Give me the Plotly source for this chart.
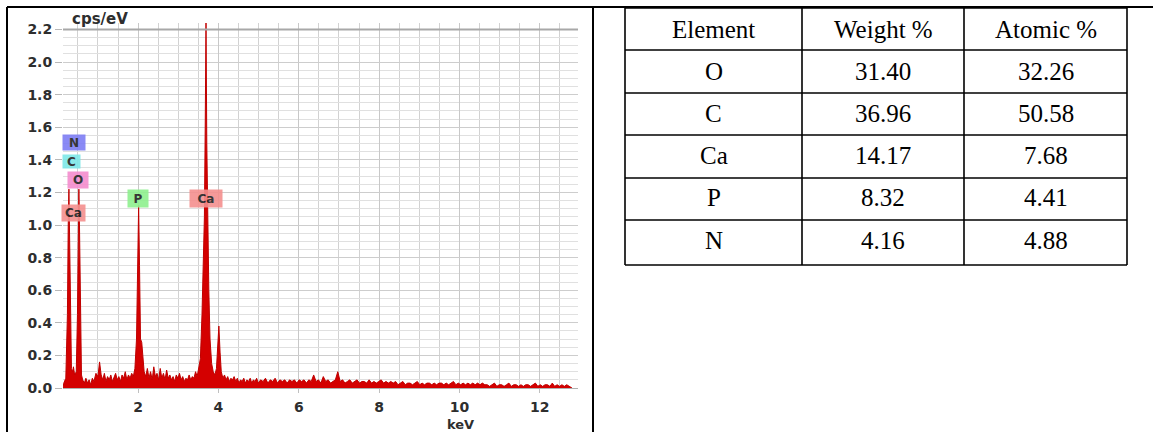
import plotly.graph_objects as go

# ---------------- data ----------------
energy_kev = [
    0.13, 0.15, 0.20, 0.24, 0.26, 0.277, 0.29, 0.31, 0.34, 0.37,
    0.39, 0.42, 0.46, 0.49, 0.51, 0.525, 0.54, 0.56, 0.59, 0.62,
    0.66, 0.70, 0.74, 0.78, 0.82, 0.86, 0.90, 0.95, 1.00, 1.04,
    1.08, 1.12, 1.16, 1.20, 1.24, 1.28, 1.32, 1.36, 1.40, 1.44,
    1.48, 1.52, 1.56, 1.60, 1.64, 1.68, 1.72, 1.76, 1.80, 1.84,
    1.88, 1.92, 1.96, 1.99, 2.013, 2.035, 2.06, 2.09, 2.12, 2.15,
    2.19, 2.23, 2.27, 2.31, 2.35, 2.39, 2.43, 2.47, 2.51, 2.55,
    2.59, 2.63, 2.67, 2.71, 2.75, 2.79, 2.83, 2.87, 2.91, 2.95,
    2.99, 3.03, 3.07, 3.11, 3.15, 3.19, 3.23, 3.27, 3.31, 3.35,
    3.39, 3.43, 3.47, 3.51, 3.55, 3.59, 3.62, 3.65, 3.67, 3.69,
    3.71, 3.73, 3.76, 3.79, 3.83, 3.87, 3.91, 3.95, 3.98, 4.01,
    4.04, 4.07, 4.11, 4.15, 4.19, 4.23, 4.27, 4.31, 4.35, 4.39,
    4.43, 4.47, 4.51, 4.55, 4.59, 4.63, 4.67, 4.71, 4.75, 4.79,
    4.83, 4.87, 4.91, 4.95, 4.99, 5.05, 5.11, 5.17, 5.23, 5.29,
    5.35, 5.41, 5.47, 5.53, 5.59, 5.65, 5.71, 5.77, 5.83, 5.89,
    5.95, 6.01, 6.07, 6.13, 6.19, 6.25, 6.31, 6.37, 6.43, 6.49,
    6.55, 6.61, 6.67, 6.73, 6.79, 6.85, 6.91, 6.97, 7.03, 7.09,
    7.15, 7.21, 7.27, 7.33, 7.39, 7.45, 7.51, 7.57, 7.63, 7.69,
    7.75, 7.81, 7.87, 7.93, 7.99, 8.05, 8.11, 8.17, 8.23, 8.29,
    8.35, 8.41, 8.47, 8.53, 8.59, 8.65, 8.71, 8.77, 8.83, 8.89,
    8.95, 9.01, 9.07, 9.13, 9.19, 9.25, 9.31, 9.37, 9.43, 9.49,
    9.55, 9.61, 9.67, 9.73, 9.79, 9.85, 9.91, 9.97, 10.03, 10.09,
    10.15, 10.21, 10.27, 10.33, 10.39, 10.45, 10.51, 10.57, 10.63, 10.69,
    10.75, 10.81, 10.87, 10.93, 10.99, 11.05, 11.11, 11.17, 11.23, 11.29,
    11.35, 11.41, 11.47, 11.53, 11.59, 11.65, 11.71, 11.77, 11.83, 11.89,
    11.95, 12.01, 12.07, 12.13, 12.19, 12.25, 12.31, 12.37, 12.43, 12.49,
    12.55, 12.61, 12.67, 12.73, 12.80,
]
counts_cps = [
    0.00, 0.03, 0.06, 0.45, 1.00, 1.22, 1.00, 0.45, 0.12, 0.10,
    0.13, 0.08, 0.10, 0.45, 1.00, 1.22, 1.00, 0.45, 0.08, 0.05,
    0.03, 0.06, 0.03, 0.05, 0.02, 0.06, 0.04, 0.09, 0.07, 0.16,
    0.08, 0.05, 0.09, 0.04, 0.07, 0.05, 0.08, 0.04, 0.06, 0.09,
    0.05, 0.07, 0.04, 0.08, 0.06, 0.10, 0.05, 0.08, 0.06, 0.09,
    0.07, 0.12, 0.30, 0.85, 1.12, 0.75, 0.30, 0.28, 0.18, 0.10,
    0.07, 0.12, 0.06, 0.10, 0.05, 0.13, 0.07, 0.09, 0.05, 0.12,
    0.06, 0.09, 0.05, 0.11, 0.06, 0.08, 0.05, 0.07, 0.04, 0.08,
    0.06, 0.09, 0.05, 0.07, 0.04, 0.06, 0.05, 0.08, 0.05, 0.07,
    0.06, 0.10, 0.07, 0.12, 0.18, 0.45, 0.75, 1.05, 1.60, 2.24,
    1.50, 1.00, 0.60, 0.30, 0.15, 0.10, 0.08, 0.12, 0.25, 0.38,
    0.22, 0.10, 0.06, 0.08, 0.05, 0.07, 0.04, 0.06, 0.05, 0.07,
    0.04, 0.06, 0.03, 0.05, 0.04, 0.06, 0.03, 0.05, 0.04, 0.06,
    0.03, 0.05, 0.04, 0.06, 0.03, 0.05, 0.04, 0.06, 0.03, 0.05,
    0.04, 0.06, 0.03, 0.05, 0.04, 0.05, 0.03, 0.05, 0.04, 0.05,
    0.03, 0.05, 0.04, 0.05, 0.03, 0.05, 0.04, 0.08, 0.04, 0.05,
    0.03, 0.07, 0.04, 0.05, 0.03, 0.04, 0.05, 0.10, 0.04, 0.05,
    0.03, 0.04, 0.05, 0.03, 0.04, 0.05, 0.03, 0.04, 0.04, 0.03,
    0.05, 0.03, 0.04, 0.03, 0.04, 0.05, 0.03, 0.04, 0.03, 0.04,
    0.03, 0.04, 0.02, 0.03, 0.04, 0.02, 0.03, 0.03, 0.02, 0.03,
    0.04, 0.02, 0.03, 0.02, 0.03, 0.03, 0.02, 0.03, 0.02, 0.03,
    0.03, 0.02, 0.03, 0.02, 0.03, 0.04, 0.02, 0.03, 0.02, 0.03,
    0.02, 0.03, 0.02, 0.03, 0.02, 0.03, 0.02, 0.03, 0.02, 0.02,
    0.01, 0.02, 0.03, 0.01, 0.02, 0.02, 0.01, 0.02, 0.03, 0.01,
    0.02, 0.02, 0.01, 0.02, 0.01, 0.02, 0.02, 0.01, 0.02, 0.03,
    0.01, 0.02, 0.01, 0.02, 0.02, 0.01, 0.03, 0.01, 0.02, 0.01,
    0.02, 0.01, 0.02, 0.01, 0.00,
]
assert len(energy_kev) == len(counts_cps)

y_tick_vals = [0.0, 0.2, 0.4, 0.6, 0.8, 1.0, 1.2, 1.4, 1.6, 1.8, 2.0, 2.2]
x_tick_vals = [2, 4, 6, 8, 10, 12]

# element markers on the spectrum
peak_labels = ["N", "C", "O", "Ca", "P", "Ca"]
peak_colors = ["#7e7ef4", "#7ee8e8", "#f48cce", "#f4908e", "#8ef08e", "#f4908e"]

# composition table
table_header = ["Element", "Weight %", "Atomic %"]
table_element = ["O", "C", "Ca", "P", "N"]
table_weight = ["31.40", "36.96", "14.17", "8.32", "4.16"]
table_atomic = ["32.26", "50.58", "7.68", "4.41", "4.88"]

# ---------------- layout helpers ----------------
W, H = 1153, 432


def px(x):
    return x / W


def py(y):
    return 1 - y / H


fig = go.Figure()
fig.add_trace(go.Scatter(
    x=energy_kev, y=counts_cps, mode="lines", fill="tozeroy",
    line=dict(color="#c00000", width=1), fillcolor="#d40000",
    showlegend=False, hoverinfo="skip",
))

tick_font = dict(family="DejaVu Sans", size=14, color="#2e2e2e", weight="bold")

fig.update_layout(
    width=W, height=H, margin=dict(l=0, r=0, t=0, b=0, autoexpand=False),
    paper_bgcolor="white", plot_bgcolor="white", showlegend=False,
    xaxis=dict(
        domain=[px(63), px(578)], range=[0.13, 12.95], automargin=False,
        tickvals=x_tick_vals, ticktext=[str(v) for v in x_tick_vals],
        showgrid=True, gridcolor="#c8c8c8", gridwidth=1,
        minor=dict(dtick=0.5, tick0=0, showgrid=True, gridcolor="#d2d2d2", gridwidth=1),
        ticks="outside", ticklen=4, tickcolor="#c0c0c0",
        showline=True, linecolor="#b0b0b0", linewidth=1,
        zeroline=False, tickfont=tick_font, ticklabelstandoff=2,
    ),
    yaxis=dict(
        domain=[py(388), py(22.9)], range=[0, 2.24], automargin=False,
        tickvals=y_tick_vals, tickformat=".1f",
        showgrid=True, gridcolor="#cdcdcd", gridwidth=1,
        minor=dict(dtick=0.05, tick0=0, showgrid=True, gridcolor="#e0e0e0", gridwidth=1),
        ticks="outside", ticklen=7, tickcolor="#b8b8b8",
        showline=False, zeroline=False, tickfont=tick_font,
    ),
)

shapes = []
# top border of the spectrum plot at 2.2
shapes.append(dict(type="line", xref="x", yref="y", x0=0.13, x1=12.95, y0=2.2, y1=2.2,
                   line=dict(color="#a8a8a8", width=2)))
# outer frame
shapes.append(dict(type="line", xref="paper", yref="paper", x0=px(7), x1=px(1153), y0=py(7), y1=py(7),
                   line=dict(color="black", width=2)))
shapes.append(dict(type="line", xref="paper", yref="paper", x0=px(7), x1=px(7), y0=py(7), y1=py(432),
                   line=dict(color="black", width=2)))
shapes.append(dict(type="line", xref="paper", yref="paper", x0=px(593), x1=px(593), y0=py(7), y1=py(432),
                   line=dict(color="black", width=2)))

# table grid
col_x = [625, 802, 964, 1127]
row_y = [8, 50, 93, 135, 178, 220, 265]
for cx in col_x:
    shapes.append(dict(type="line", xref="paper", yref="paper", x0=px(cx), x1=px(cx),
                       y0=py(row_y[0]), y1=py(row_y[-1]), line=dict(color="black", width=1.6)))
for ry in row_y:
    shapes.append(dict(type="line", xref="paper", yref="paper", x0=px(col_x[0]), x1=px(col_x[-1]),
                       y0=py(ry), y1=py(ry), line=dict(color="black", width=1.6)))

annotations = []
# axis titles
annotations.append(dict(text="cps/eV", xref="paper", yref="paper", x=px(100), y=py(19),
                        showarrow=False, xanchor="center", yanchor="middle",
                        font=dict(family="DejaVu Sans", size=15, color="#2e2e2e", weight="bold")))
annotations.append(dict(text="keV", xref="paper", yref="paper", x=px(460), y=py(424),
                        showarrow=False, xanchor="center", yanchor="middle",
                        font=dict(family="DejaVu Sans", size=13, color="#2e2e2e", weight="bold")))

# element label boxes (pixel centres and sizes)
label_boxes = [(74, 142.5, 22, 15), (71.5, 161.5, 17, 13), (78, 180, 20, 16),
               (73.5, 213, 23, 16), (138, 198.5, 20, 17), (206, 198.5, 32, 17)]
for lab, col, (cx, cy, bw, bh) in zip(peak_labels, peak_colors, label_boxes):
    annotations.append(dict(text=lab, xref="paper", yref="paper", x=px(cx), y=py(cy),
                            showarrow=False, xanchor="center", yanchor="middle",
                            width=bw, height=bh, bgcolor=col, opacity=0.9, borderpad=0,
                            font=dict(family="DejaVu Sans", size=12, color="#222222", weight="bold")))

# table text
col_cx = [(col_x[i] + col_x[i + 1]) / 2 for i in range(3)]
text_y = [29, 71, 113, 155, 198, 240]
tfont = dict(family="Liberation Serif", size=25, color="black")
for i, h in enumerate(table_header):
    annotations.append(dict(text=h, xref="paper", yref="paper", x=px(col_cx[i]), y=py(text_y[0]),
                            showarrow=False, xanchor="center", yanchor="middle", font=tfont))
for r in range(len(table_element)):
    for i, val in enumerate([table_element[r], table_weight[r], table_atomic[r]]):
        annotations.append(dict(text=val, xref="paper", yref="paper", x=px(col_cx[i]), y=py(text_y[r + 1]),
                                showarrow=False, xanchor="center", yanchor="middle", font=tfont))

fig.update_layout(shapes=shapes, annotations=annotations)
fig.write_html(
    "out.html",
    config={"displayModeBar": False, "staticPlot": True},
    post_script="document.body.style.margin='0';document.body.style.overflow='hidden';",
)
